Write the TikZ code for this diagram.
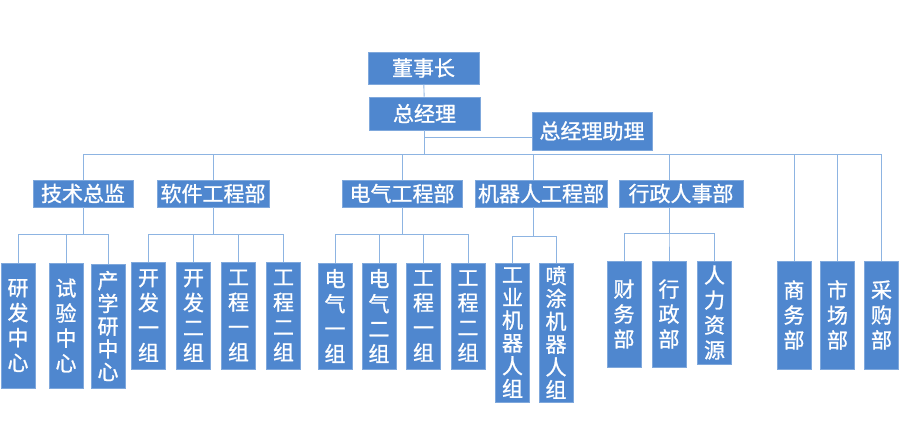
\documentclass[tikz,border=0pt]{standalone}
\usepackage{fontspec}
\setmainfont{Noto Sans CJK SC}
\newfontfamily\boxfont{Noto Sans CJK SC}[FakeBold=1]
\definecolor{boxfill}{HTML}{4F87CF}
\definecolor{boxedge}{HTML}{7FA8DC}
\definecolor{linecol}{HTML}{8DB4E2}
\begin{document}
\begin{tikzpicture}[
x=1pt,y=-1pt,
box/.style={fill=boxfill,draw=boxedge,line width=0.6pt,text=white,inner sep=0pt,
	font=\boxfont\fontsize{21}{25}\selectfont},
hbox/.style={box,minimum height=27pt},
vbox/.style={box,minimum width=34pt,align=center},
dense/.style={font=\boxfont\fontsize{21}{22.8}\selectfont},
line/.style={draw=linecol,line width=0.9pt},
%every node/.style={scale=0.6},
]
\useasboundingbox (0,0) rectangle (900,437);
% top
\node [box,minimum width=111pt,minimum height=32pt] (dsz) at (423.5,68) {董事长};
\node [box,minimum width=111pt,minimum height=33pt] (zjl) at (424.5,113.5) {总经理};
\node [box,minimum width=120pt,minimum height=38pt] (zl) at (592,131) {总经理助理};
% departments
\node [hbox,minimum width=100pt] (jszj) at (83,193.5) {技术总监};
\node [hbox,minimum width=112pt] (rjb) at (213,193.5) {软件工程部};
\node [hbox,minimum width=120pt] (dqb) at (402,193.5) {电气工程部};
\node [hbox,minimum width=132pt] (jqr) at (541,193.5) {机器人工程部};
\node [hbox,minimum width=124pt] (xzb) at (681,193.5) {行政人事部};
% groups
\node [vbox,minimum height=125pt] (yf) at (18,325.5) {研\\发\\中\\心};
\node [vbox,minimum height=125pt] (sy) at (66,325.5) {试\\验\\中\\心};
\node [vbox,dense,minimum height=124pt] (cxy) at (108,326) {产\\学\\研\\中\\心};
\node [vbox,minimum height=107pt] (kf1) at (148.5,315.5) {开\\发\\一\\组};
\node [vbox,minimum height=107pt] (kf2) at (193.5,315.5) {开\\发\\二\\组};
\node [vbox,minimum height=107pt] (gc1) at (238.5,315.5) {工\\程\\一\\组};
\node [vbox,minimum height=107pt] (gc2) at (283.5,315.5) {工\\程\\二\\组};
\node [vbox,minimum height=106pt] (dq1) at (335,316) {电\\气\\一\\组};
\node [vbox,minimum height=106pt] (dq2) at (379,316) {电\\气\\二\\组};
\node [vbox,minimum height=106pt] (dgc1) at (423.5,316) {工\\程\\一\\组};
\node [vbox,minimum height=106pt] (dgc2) at (468,316) {工\\程\\二\\组};
\node [vbox,dense,minimum height=139pt] (gy) at (512.5,332.5) {工\\业\\机\\器\\人\\组};
\node [vbox,dense,minimum height=139pt] (pt) at (556,332.5) {喷\\涂\\机\\器\\人\\组};
\node [vbox,minimum height=106pt] (cw) at (624,314) {财\\务\\部};
\node [vbox,minimum height=106pt] (xz) at (669,314) {行\\政\\部};
\node [vbox,minimum height=103pt] (rl) at (714.5,312.5) {人\\力\\资\\源};
\node [vbox,minimum height=108pt] (sw) at (794,315) {商\\务\\部};
\node [vbox,minimum height=108pt] (sc) at (837.5,315) {市\\场\\部};
\node [vbox,minimum height=108pt] (cg) at (881.5,315) {采\\购\\部};
% connectors
\coordinate (b0) at (426,154);
\coordinate (zlin) at ([yshift=-6pt]zl.west);
\coordinate (jqrt) at ([xshift=-8pt]jqr.north);
\coordinate (jqrb) at ([xshift=-8pt]jqr.south);
\coordinate (xzbt) at ([xshift=-12pt]xzb.north);
\coordinate (xzbb) at ([xshift=-12pt]xzb.south);
\draw [line] (dsz) -- (zjl);
\draw [line] (zjl.south |- zlin) -- (zlin);
\foreach \c in {jszj.north,rjb.north,dqb.north,jqrt,xzbt,sw.north,sc.north,cg.north}
	\draw [line] (zjl.south) |- (\c |- b0) -- (\c);
\foreach \p/\c/\y in {jszj.south/yf/234,jszj.south/sy/234,jszj.south/cxy/234,
	rjb.south/kf1/234,rjb.south/kf2/234,rjb.south/gc1/234,rjb.south/gc2/234,
	dqb.south/dq1/234,dqb.south/dq2/234,dqb.south/dgc1/234,dqb.south/dgc2/234,
	jqrb/gy/236,jqrb/pt/236,
	xzbb/cw/233,xzbb/xz/233,xzbb/rl/233}
	\draw [line] (\p) |- (\c.north |- 0,\y) -- (\c.north);
\end{tikzpicture}
\end{document}
